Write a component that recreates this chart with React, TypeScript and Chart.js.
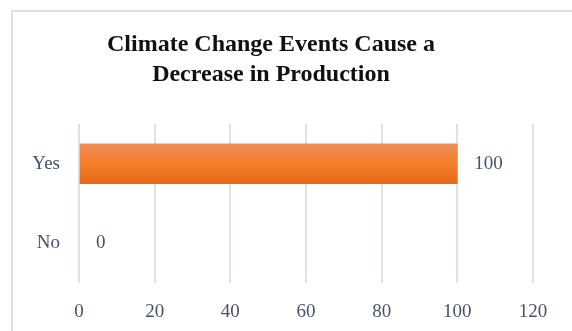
import React, { useEffect, useRef } from "react";
import { Chart, registerables } from "chart.js";

Chart.register(...registerables);

const categories = ["Yes", "No"];
const values = [100, 0];
const titleLines = ["Climate Change Events Cause a", "Decrease in Production"];
const xMin = 0;
const xMax = 120;
const xStep = 20;

const FONT = "'Liberation Serif', 'DejaVu Serif', serif";
const TEXT = "#44546a";
const GRID = "#dde2ea";

const framePlugin = {
  id: "frame",
  beforeDraw(chart: any) {
    const { ctx, width, height } = chart;
    ctx.save();
    ctx.fillStyle = "#ffffff";
    ctx.fillRect(0, 0, width, height);
    ctx.strokeStyle = "#dde1e7";
    ctx.lineWidth = 2;
    ctx.strokeRect(12, 11, 2000, 2000);
    ctx.restore();
  },
};

const titlePlugin = {
  id: "customTitle",
  afterDraw(chart: any) {
    const { ctx } = chart;
    ctx.save();
    ctx.fillStyle = "#111111";
    ctx.font = `bold 24px ${FONT}`;
    ctx.textAlign = "center";
    ctx.textBaseline = "middle";
    ctx.fillText(titleLines[0], 271, 45);
    ctx.fillText(titleLines[1], 271, 75);
    ctx.restore();
  },
};

const valueLabelPlugin = {
  id: "valueLabels",
  afterDatasetsDraw(chart: any) {
    const { ctx } = chart;
    const meta = chart.getDatasetMeta(0);
    ctx.save();
    ctx.fillStyle = TEXT;
    ctx.font = `19px ${FONT}`;
    ctx.textAlign = "left";
    ctx.textBaseline = "middle";
    meta.data.forEach((el: any, i: number) => {
      ctx.fillText(String(values[i]), el.x + 17, el.y);
    });
    ctx.restore();
  },
};

export default function App() {
  const ref = useRef<HTMLCanvasElement | null>(null);

  useEffect(() => {
    if (!ref.current) return;
    const chart = new Chart(ref.current, {
      type: "bar",
      data: {
        labels: categories,
        datasets: [
          {
            data: values,
            backgroundColor: (c: any) => {
              const ch = c.chart;
              const ys = ch.scales && ch.scales.y;
              if (c.raw === 0) return "rgba(0,0,0,0)";
              if (!ys || c.dataIndex === undefined) return "#f47f2e";
              const y = ys.getPixelForValue(c.dataIndex);
              if (!Number.isFinite(y)) return "#f47f2e";
              const g = ch.ctx.createLinearGradient(0, y - 20, 0, y + 20);
              g.addColorStop(0, "#f08c55");
              g.addColorStop(0.5, "#f57f2c");
              g.addColorStop(1, "#e6691a");
              return g;
            },
            borderWidth: 0,
            barThickness: 40,
          },
        ],
      },
      options: {
        indexAxis: "y",
        responsive: false,
        animation: false,
        layout: { padding: { top: 124, left: 0, right: 39, bottom: 0 } },
        plugins: {
          legend: { display: false },
          title: { display: false },
          tooltip: { enabled: false },
        },
        scales: {
          x: {
            min: xMin,
            max: xMax,
            ticks: {
              stepSize: xStep,
              color: TEXT,
              font: { family: FONT, size: 19 },
              padding: 18,
            },
            grid: { color: GRID, lineWidth: 2, drawTicks: false },
            border: { display: false },
            afterFit: (s: any) => {
              s.height = 48;
            },
          },
          y: {
            ticks: {
              color: TEXT,
              font: { family: FONT, size: 19 },
              padding: 19,
            },
            grid: { display: false, drawTicks: false },
            border: { display: false },
            afterFit: (s: any) => {
              s.width = 79;
              s.paddingTop = 0;
              s.paddingBottom = 0;
            },
          },
        },
      },
      plugins: [framePlugin, titlePlugin, valueLabelPlugin],
    } as any);
    return () => chart.destroy();
  }, []);

  return (
    <div style={{ position: "fixed", left: 0, top: 0, width: 572, height: 331, background: "#fff" }}>
      <canvas ref={ref} width={572} height={331} style={{ width: 572, height: 331, display: "block" }} />
    </div>
  );
}
